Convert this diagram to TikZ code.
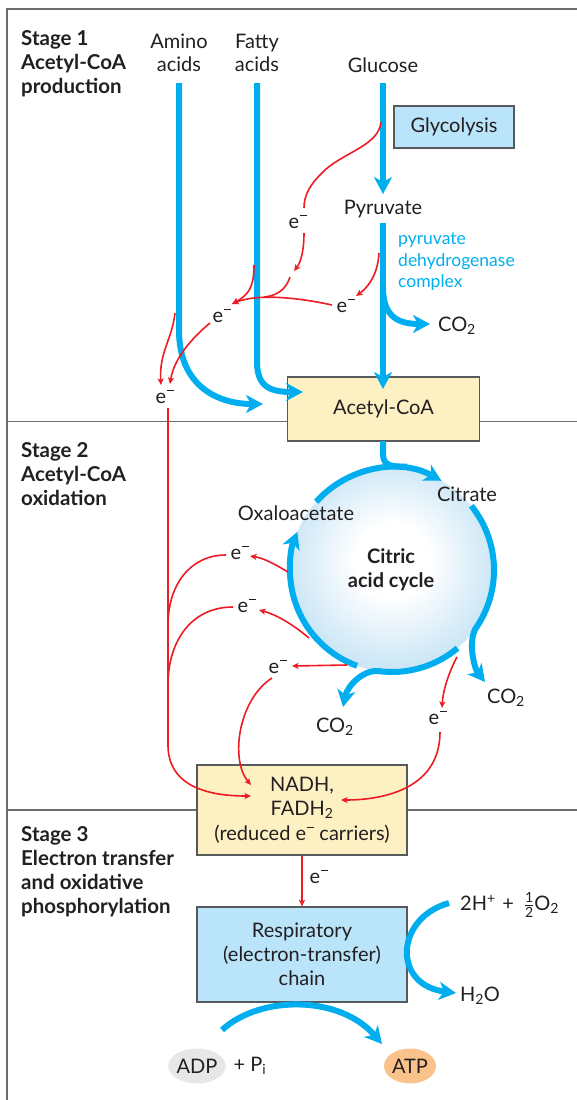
\documentclass[tikz,border=0pt]{standalone}
\usepackage{fontspec}
\setmainfont{Lato}
\usetikzlibrary{arrows.meta,shapes.geometric}
\definecolor{ink}{HTML}{231F20}
\definecolor{cyanA}{HTML}{00AEEF}
\definecolor{redA}{HTML}{ED1C24}
\definecolor{yelA}{HTML}{FDF1C4}
\definecolor{boxblue}{HTML}{B9E4F9}
\definecolor{edge}{HTML}{58595B}
\definecolor{framec}{HTML}{6D6E71}
\definecolor{cycblue}{HTML}{CDE7F6}
\definecolor{adpgray}{HTML}{E6E7E8}
\definecolor{atporange}{HTML}{FBC38C}
\newcommand{\elec}{e\kern0.6pt\raisebox{0.62em}{\rule{0.38em}{0.055em}}}
\newcommand{\halffrac}{$\frac{\mbox{\fontsize{14}{14}\selectfont 1}}{\mbox{\fontsize{14}{14}\selectfont 2}}$}
\pgfdeclareradialshading{cycshade}{\pgfpoint{0bp}{3bp}}{color(0bp)=(white); color(9bp)=(white); color(25bp)=(cycblue); color(50bp)=(cycblue)}
\begin{document}
\begin{tikzpicture}[x=1pt,y=-1pt,
  lbl/.style={text=ink,font=\fontsize{20}{23.5}\selectfont,inner sep=0pt,align=center},
  stg/.style={text=ink,font=\fontsize{20.5}{24}\selectfont\bfseries,inner sep=0pt,align=left,anchor=west},
  elab/.style={text=ink,font=\fontsize{20}{20}\selectfont,inner sep=0pt},
  enz/.style={text=cyanA,font=\fontsize{17.5}{21.5}\selectfont,inner sep=0pt,align=left,anchor=west},
  framel/.style={draw=framec,line width=1.3pt},
  boxY/.style={draw=edge,line width=1.2pt,fill=yelA,text=ink,font=\fontsize{20}{24.5}\selectfont,align=center,inner sep=0pt},
  boxB/.style={draw=edge,line width=1.2pt,fill=boxblue,text=ink,font=\fontsize{20}{24}\selectfont,align=center,inner sep=0pt},
  blueline/.style={draw=cyanA,line width=6pt},
  bluearrow/.style={draw=cyanA,line width=6pt,-{Stealth[length=17pt,width=18pt,inset=5pt]}},
  redline/.style={draw=redA,line width=1.6pt},
  redarrow/.style={draw=redA,line width=1.6pt,-{Stealth[length=6.5pt,width=6pt,inset=1.5pt]}},
  pill/.style={ellipse,minimum width=52pt,minimum height=35pt,inner sep=0pt,text=ink,font=\fontsize{20}{22}\selectfont}
]
\useasboundingbox (0,0) rectangle (577,1100);
% frame
\draw[framel] (577,9) -- (7,9) -- (7,1100);
\draw[framel] (7,421.5) -- (577,421.5);
\draw[framel] (7,810) -- (577,810);

% stage labels
\node[stg] (s1) at (21,64) {Stage 1\\Acetyl-CoA\\production};
\node[stg] (s2) at (21,474.5) {Stage 2\\Acetyl-CoA\\oxidation};
\node[stg] (s3) at (21,872) {Stage 3\\Electron transfer\\and oxidative\\phosphorylation};

% top labels
\node[lbl] (amino) at (179,53) {Amino\\acids};
\node[lbl] (fatty) at (257,53) {Fatty\\acids};
\node[lbl] (gluc) at (383,65) {Glucose};
\node[boxB,minimum width=120pt,minimum height=42pt] (glyco) at (454,127) {Glycolysis};
\node[lbl] (pyr) at (383,209) {Pyruvate};
\node[enz] (pdh) at (398,262) {pyruvate\\dehydrogenase\\complex};
\node[lbl] (co2a) at (457,326) {CO\textsubscript{2}};
\node[boxY,minimum width=192pt,minimum height=64pt] (acoa) at (383.5,409) {Acetyl-CoA};

% citric acid cycle
\coordinate (C) at (392,570);
\path[shading=cycshade] (C) circle[radius=102pt];
\node[lbl,font=\fontsize{20}{24.5}\selectfont\bfseries] (cac) at (391,570) {Citric\\acid cycle};
\node[lbl] (cit) at (467,494) {Citrate};
\node[lbl] (oxa) at (296,513) {Oxaloacetate};
\node[lbl] (co2b) at (506,698) {CO\textsubscript{2}};
\node[lbl] (co2c) at (335,727) {CO\textsubscript{2}};

\node[boxY,minimum width=210pt,minimum height=90pt] (nadh) at (302,810) {NADH,\\FADH\textsubscript{2}\\(reduced \elec\ carriers)};
\node[boxB,minimum width=210pt,minimum height=95pt] (resp) at (302,954.5) {Respiratory\\(electron-transfer)\\chain};

\node[text=ink,font=\fontsize{20}{23.5}\selectfont,inner sep=0pt,anchor=west] (oxy) at (460,905) {2H\textsuperscript{+}\,\,+\,\,\,\halffrac O\textsubscript{2}};
\node[lbl] (water) at (480,996) {H\textsubscript{2}O};
\node[pill,fill=adpgray] (adp) at (197,1066) {ADP};
\node[lbl] (pi) at (250,1066) {+ P\textsubscript{i}};
\node[pill,fill=atporange] (atp) at (410,1066) {ATP};

% electron labels
\node[elab] (e1) at (298,222) {\elec};
\node[elab] (e2) at (346,306) {\elec};
\node[elab] (e3) at (222,316) {\elec};
\node[elab] (e4) at (165,397) {\elec};
\node[elab] (e5) at (240,553) {\elec};
\node[elab] (e6) at (247,606) {\elec};
\node[elab] (e7) at (278,667) {\elec};
\node[elab] (e8) at (438,718) {\elec};
\node[elab] (e9) at (319,877) {\elec};

% blue flows stage 1
\draw[bluearrow] (179,83) -- (179,330) .. controls (179,388) and (220,404) .. (263,404);
\draw[bluearrow] (257,83) -- (257,362) .. controls (257,388) and (272,392) .. (303,392);
\draw[bluearrow] (383,83) -- (383,194);
\draw[bluearrow] (383,223) -- (383,389);
\draw[bluearrow] (383,288) .. controls (383,318) and (400,324) .. (430,324);

% cycle arcs
\draw[blueline] (383,441) -- (383,454) .. controls (383,466) and (392,467) .. (407,466.5);
\draw[bluearrow] ([shift={(138:102pt)}]C) arc[start angle=138,end angle=61,radius=102pt];
\draw[bluearrow] ([shift={(39:102pt)}]C) arc[start angle=39,end angle=-35,radius=102pt] .. controls (468,642) and (474,668) .. (485,682);
\draw[bluearrow] ([shift={(-50:102pt)}]C) arc[start angle=-50,end angle=-98,radius=102pt] .. controls (362,670) and (347,687) .. (343,707);
\draw[bluearrow] ([shift={(-110:102pt)}]C) arc[start angle=-110,end angle=-202,radius=102pt];

% stage 3 blue
\draw[bluearrow] (449,903) .. controls (395,918) and (392,985) .. (456,993);
\draw[bluearrow] (222,1030) .. controls (260,995) and (340,995) .. (382,1044);

% red stage 1
\draw[redline] (381,122) .. controls (379,145) and (345,152) .. (325,170) .. controls (310,184) and (304,195) .. (304,208);
\draw[redarrow] (304,233) .. controls (304,250) and (301,262) .. (294,271);
\draw[redarrow] (379,253) .. controls (378,272) and (370,286) .. (356,296);
\draw[redarrow] (332,305) .. controls (300,298) and (258,293) .. (232,304);
\draw[redline] (290,277) .. controls (286,290) and (276,296) .. (264,297);
\draw[redarrow] (254,265) .. controls (254,288) and (248,295) .. (232,304);
\draw[redarrow] (210,323) .. controls (193,337) and (174,358) .. (170,384);
\draw[redarrow] (175,313) .. controls (172,340) and (159,352) .. (161,385);

% red stage 2
\draw[redarrow] (168,408) -- (168,745) .. controls (168,782) and (200,796) .. (251,796);
\draw[redarrow] (288,572) .. controls (273,563) and (263,558) .. (250,556);
\draw[redline] (226,555) .. controls (190,555) and (168,585) .. (168,625);
\draw[redarrow] (309,638) .. controls (290,622) and (274,614) .. (259,610);
\draw[redline] (233,607) .. controls (192,607) and (168,640) .. (168,685);
\draw[redarrow] (347,665) -- (292,666);
\draw[redarrow] (272,678) .. controls (238,700) and (230,760) .. (251,785);
\draw[redarrow] (457,657) .. controls (449,672) and (443,690) .. (442,708);
\draw[redarrow] (440,732) .. controls (440,788) and (385,800) .. (341,800);

% red stage 3
\draw[redarrow] (nadh.south) -- (resp.north);
\end{tikzpicture}
\end{document}
